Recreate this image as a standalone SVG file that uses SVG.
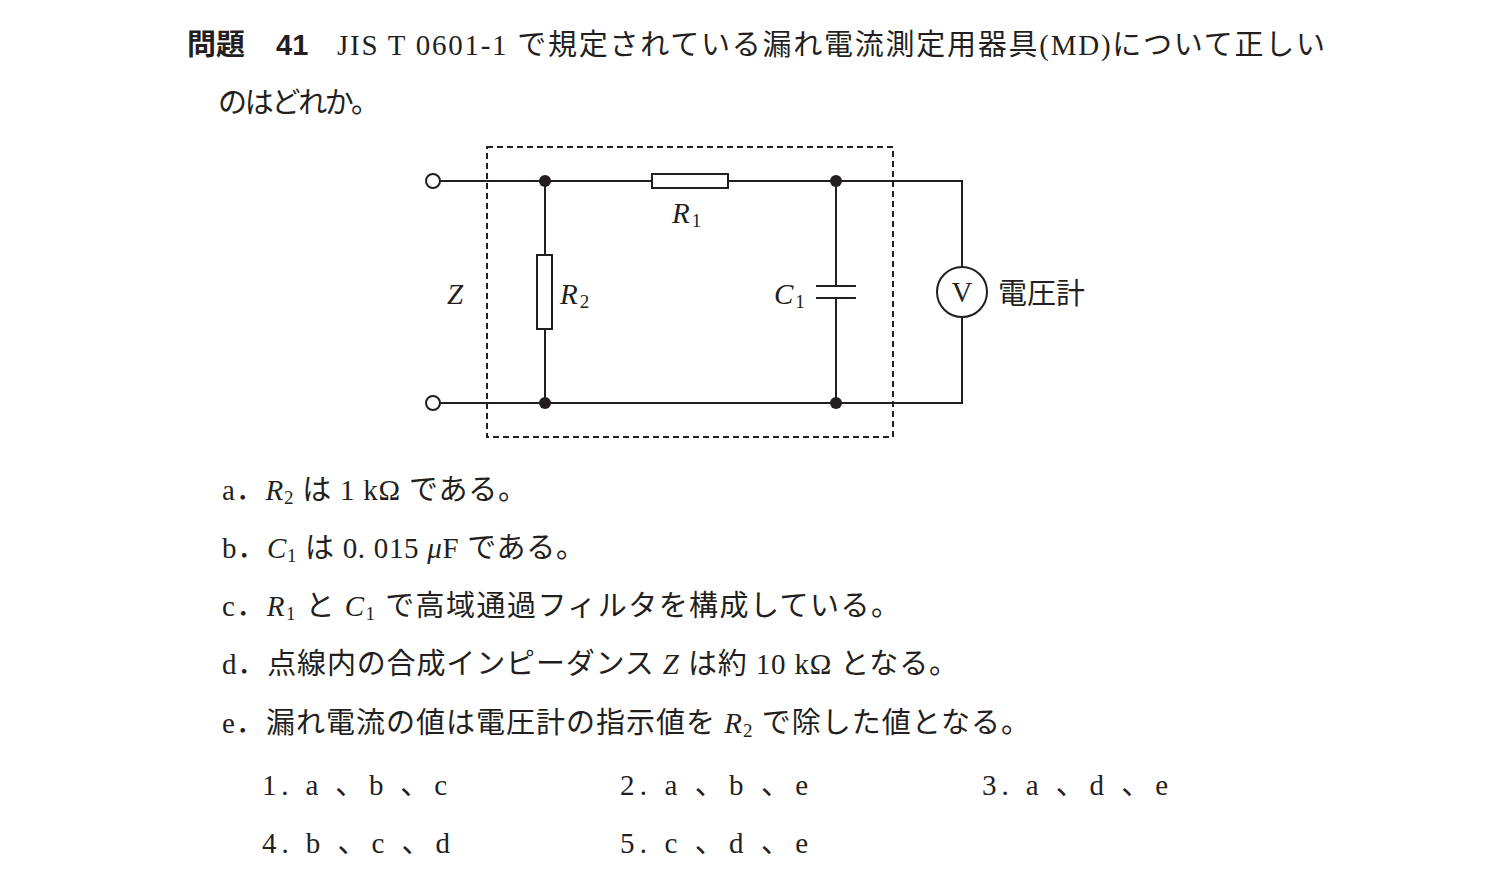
<svg xmlns="http://www.w3.org/2000/svg" width="1512" height="892" viewBox="0 0 1512 892">
<style>
text{font-family:"Liberation Serif","Noto Sans CJK JP",serif;font-size:29px;fill:#231f20}
.b{font-family:"Liberation Sans","Noto Sans CJK JP",sans-serif;font-weight:bold}
.i{font-style:italic}
.s{font-size:19px}
.w{stroke:#231f20;stroke-width:2;fill:none}
.d{fill:#231f20}
</style>
<rect width="1512" height="892" fill="#fff"/>
<g id="question">
<text x="187" y="55" class="b">問題</text>
<text x="276" y="55" class="b">41</text>
<text x="337" y="55" textLength="988" lengthAdjust="spacing">JIS T 0601-1 で規定されている漏れ電流測定用器具(MD)について正しい</text>
<text x="218" y="113" textLength="162" lengthAdjust="spacing">のはどれか。</text>
</g>
<g id="connectors">
<rect x="487" y="147" width="406" height="290" class="w" stroke-dasharray="6,4"/>
<path class="w" d="M440 181H652M728 181H962V267M962 317V403H440M545 181V255M545 329V403M836 181V286M836 298V403"/>
</g>
<g id="terminals"><circle cx="433" cy="181" r="7" fill="#fff" class="w"/><circle cx="433" cy="403" r="7" fill="#fff" class="w"/></g>
<g id="nodes"><circle cx="545" cy="181" r="6" class="d"/><circle cx="836" cy="181" r="6" class="d"/><circle cx="545" cy="403" r="6" class="d"/><circle cx="836" cy="403" r="6" class="d"/></g>
<g id="R1"><rect x="652" y="174" width="76" height="14" fill="#fff" class="w"/><text x="672" y="223" class="i">R<tspan class="s" font-style="normal" dy="4" dx="2">1</tspan></text></g>
<g id="R2"><rect x="537" y="255" width="15" height="74" fill="#fff" class="w"/><text x="560" y="304" class="i">R<tspan class="s" font-style="normal" dy="4" dx="2">2</tspan></text></g>
<g id="C1"><path class="w" stroke-width="2.5" d="M816 286H856M816 298H856"/><text x="774" y="304" class="i">C<tspan class="s" font-style="normal" dy="4" dx="2">1</tspan></text></g>
<g id="Z"><text x="447" y="304" class="i">Z</text></g>
<g id="V"><circle cx="962" cy="292" r="25" fill="#fff" class="w"/><text x="962" y="302" text-anchor="middle">V</text><text x="998" y="304">電圧計</text></g>
<g id="options">
<text x="222" y="500" textLength="305" lengthAdjust="spacing">a．<tspan class="i">R</tspan><tspan class="s" dy="4">2</tspan><tspan dy="-4"> は 1 kΩ である。</tspan></text>
<text x="222" y="558" textLength="363" lengthAdjust="spacing">b．<tspan class="i">C</tspan><tspan class="s" dy="4">1</tspan><tspan dy="-4"> は 0. 015 </tspan><tspan class="i">μ</tspan>F である。</text>
<text x="222" y="616" textLength="678" lengthAdjust="spacing">c．<tspan class="i">R</tspan><tspan class="s" dy="4">1</tspan><tspan dy="-4"> と </tspan><tspan class="i">C</tspan><tspan class="s" dy="4">1</tspan><tspan dy="-4"> で高域通過フィルタを構成している。</tspan></text>
<text x="222" y="674" textLength="736" lengthAdjust="spacing">d．点線内の合成インピーダンス <tspan class="i">Z</tspan> は約 10 kΩ となる。</text>
<text x="222" y="733" textLength="808" lengthAdjust="spacing">e．漏れ電流の値は電圧計の指示値を <tspan class="i">R</tspan><tspan class="s" dy="4">2</tspan><tspan dy="-4"> で除した値となる。</tspan></text>
<text x="262" y="795" textLength="185" lengthAdjust="spacing">1.  a 、b 、c</text>
<text x="620" y="795" textLength="188" lengthAdjust="spacing">2.  a 、b 、e</text>
<text x="982" y="795" textLength="186" lengthAdjust="spacing">3.  a 、d 、e</text>
<text x="262" y="853" textLength="188" lengthAdjust="spacing">4.  b 、c 、d</text>
<text x="620" y="853" textLength="188" lengthAdjust="spacing">5.  c 、d 、e</text>
</g>
</svg>
